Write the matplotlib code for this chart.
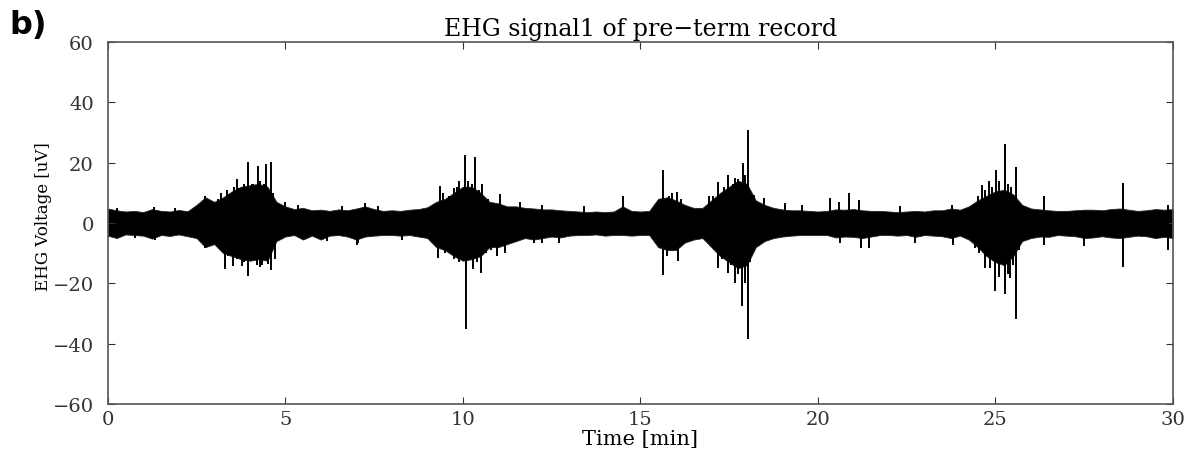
import matplotlib
matplotlib.use("Agg")
import matplotlib.pyplot as plt
import numpy as np

# ===[DATA]=== #
# band of the background noise, sampled every 0.25 min (0 .. 30 min)
env_t = np.arange(0, 30.001, 0.25)
env_hi = [4.8, 4.2, 3.8, 4.0,   3.6, 4.6, 4.0, 3.8,   4.3, 3.9, 6.0, 8.5,   # 0-2.75
          7.0, 8.5, 10.5, 12.0, 12.5, 13.0, 12.0, 7.0,  5.5, 4.6, 5.0, 4.2,  # 3-5.75
          4.4, 4.0, 4.5, 4.2,   4.8, 5.5, 4.6, 4.0,   4.2, 4.0, 4.4, 4.6,    # 6-8.75
          5.2, 7.0, 8.0, 10.0,  12.0, 12.0, 10.0, 7.0, 6.5, 5.5, 5.5, 5.0,   # 9-11.75
          4.8, 4.5, 4.5, 4.2,   4.0, 3.8, 3.6, 3.8,   3.6, 3.8, 5.5, 4.0,    # 12-14.75
          3.8, 4.0, 8.0, 8.5,   7.5, 6.0, 5.0, 5.0,   7.5, 10.0, 12.0, 14.0, # 15-17.75
          13.0, 7.5, 6.0, 5.0,  4.5, 4.2, 4.2, 4.0,   3.8, 4.0, 4.5, 4.4,    # 18-20.75
          4.6, 4.2, 4.0, 4.0,   3.8, 3.6, 3.8, 4.0,   3.8, 4.2, 4.2, 4.8,    # 21-23.75
          4.4, 5.5, 7.5, 9.0,   10.5, 11.0, 9.5, 6.0, 4.8, 4.5, 4.2, 4.0,    # 24-26.75
          4.0, 4.2, 4.4, 4.4,   4.2, 4.6, 4.8, 4.4,   4.0, 4.2, 4.6, 4.4,    # 27-29.75
          4.6]
env_lo = [-4.2, -5.0, -3.8, -4.0,  -4.2, -5.2, -4.0, -4.3,  -3.8, -4.4, -5.0, -8.0,
          -7.0, -10.0, -11.0, -12.0, -12.5, -12.0, -12.5, -6.0, -4.5, -4.0, -5.5, -4.2,
          -5.5, -4.2, -4.0, -4.5,  -5.5, -4.5, -4.2, -4.0,  -4.0, -4.2, -4.0, -4.5,
          -5.0, -8.0, -9.0, -11.0, -12.5, -12.0, -11.0, -8.0, -8.0, -7.0, -6.0, -5.0,
          -5.5, -5.0, -4.5, -4.8,  -4.2, -4.0, -4.0, -3.8,  -4.2, -4.0, -4.0, -4.2,
          -4.0, -4.0, -8.0, -9.0,  -9.0, -6.5, -5.5, -5.0,  -8.0, -11.0, -13.0, -15.0,
          -14.0, -8.0, -6.0, -5.0, -4.5, -4.2, -4.0, -4.0,  -4.0, -4.0, -4.8, -4.5,
          -4.6, -5.0, -4.5, -4.0,  -4.0, -4.2, -4.0, -4.6,  -4.0, -4.2, -4.4, -5.0,
          -4.2, -5.5, -8.0, -11.0, -13.0, -14.0, -11.0, -6.0, -5.0, -4.5, -4.6, -4.0,
          -4.2, -4.4, -5.0, -4.8,  -4.4, -4.8, -5.0, -4.6,  -4.2, -4.4, -5.0, -4.6,
          -5.0]

# single spikes sticking out of the band: time [min], peak [uV]
spike_t = [0.25, 0.77, 1.29, 1.33, 1.9, 2.74, 2.74, 3.10, 3.20, 3.30, 3.35, 3.40,
           3.45, 3.54, 3.55, 3.63, 3.65, 3.70, 3.77, 3.85, 3.85, 3.96, 3.96,
           4.05, 4.08, 4.10, 4.20, 4.22, 4.28, 4.30, 4.34, 4.40, 4.45, 4.50,
           4.59, 4.59, 4.65, 4.70, 4.99, 5.37,
           6.17, 6.6, 7.01, 7.06, 7.25, 7.60, 8.3,
           9.31, 9.36, 9.45, 9.50, 9.60, 9.74, 9.74, 9.85, 9.90, 9.90, 10.06, 10.09,
           10.15, 10.20, 10.25, 10.30, 10.35, 10.40, 10.45, 10.52, 10.53, 10.65, 10.70,
           10.80, 10.96, 11.05, 11.19, 11.60, 12.00,
           12.22, 12.22, 12.70, 13.4, 14.52, 15.65, 15.65, 15.75, 15.80, 15.90, 15.90,
           16.03, 16.07, 16.15, 16.92, 17.05, 17.10, 17.20, 17.20, 17.30, 17.35,
           17.48, 17.48, 17.55, 17.60, 17.67, 17.67, 17.75, 17.75, 17.86, 17.90,
           17.95, 17.95, 18.02, 18.04, 18.10, 18.14, 18.20, 18.47,
           19.08, 19.55, 20.35, 20.58, 20.63, 20.88, 21.15, 21.20, 21.43, 22.3,
           22.74, 23.78, 23.80,
           24.43, 24.50, 24.55, 24.62, 24.70, 24.71, 24.81, 24.85, 24.90, 24.99, 25.01,
           25.10, 25.10, 25.26, 25.26, 25.35, 25.35, 25.40, 25.45, 25.50, 25.59, 25.59,
           25.65, 26.36, 26.36, 27.48, 28.58, 28.58, 29.86, 29.87]
spike_v = [4.9, -5.0, 5.2, -5.5, 5.0, 9.0, -8.3, 8.0, 10.0, -15.4, 11.0, -11.0,
           9.5, -14.3, 12.0, 14.5, -12.0, 11.5, -14.3, 13.0, -13.0, 20.3, -17.6,
           13.0, 13.0, -12.0, -13.9, 19.0, -14.5, 14.0, -13.9, 13.0, 19.7, -13.5,
           20.3, -15.6, 10.0, -12.0, 7.1, 6.0,
           -6.1, 5.5, -7.2, -6.6, 6.6, 5.5, -5.5,
           -11.6, 12.1, 10.0, -10.0, 9.0, 11.5, -12.1, 12.0, 14.0, -13.0, 22.5, -35.0,
           14.0, -12.0, 13.0, -15.4, 21.8, -13.0, 11.0, -16.5, 12.9, -10.0, 8.0,
           -9.0, -11.0, 9.6, -9.9, 6.9, -6.6,
           6.0, -6.6, -6.6, 5.5, 8.8, 17.6, -17.1, -11.0, 9.0, 10.0, -9.0,
           10.4, -12.6, 8.0, 8.8, 9.0, -9.0, 13.7, -14.8, -12.0, 12.0,
           15.9, -16.5, -14.0, 13.0, 14.8, -19.8, 14.5, -17.0, -27.5, 19.8,
           16.0, -20.0, 30.8, -38.5, -13.0, -9.4, 9.3, 8.2,
           6.6, 6.1, 8.2, 7.1, -6.6, 9.9, 7.7, -8.2, -8.2, 5.5,
           -6.6, 6.1, -7.2,
           -8.2, 9.0, -10.0, 12.6, 11.0, -14.9, 13.8, -15.0, 12.0, -22.6, 17.6,
           14.0, -18.0, 26.1, -23.7, 13.0, -17.0, -18.2, 12.0, -14.0, 18.7, -31.9,
           -9.0, 9.0, -7.2, -7.7, 13.2, -14.6, -8.8, 6.1]

x_ticks = [0, 5, 10, 15, 20, 25, 30]
y_ticks = [-60, -40, -20, 0, 20, 40, 60]

# ===[PLOT]=== #
serif = ["DejaVu Serif"]
fig = plt.figure(figsize=(11.84, 4.52), dpi=100)
ax = fig.add_axes([0.091, 0.104, 0.8997, 0.801])

ax.fill_between(env_t, env_lo, env_hi, color="black", lw=0.6, edgecolor="#222222")
ax.vlines(spike_t, 0, spike_v, color="black", lw=1.4)

ax.set_xlim(0, 30)
ax.set_ylim(-60, 60)
ax.set_xticks(x_ticks)
ax.set_yticks(y_ticks)
ax.tick_params(direction="in", top=True, right=True, length=5, width=0.8,
               labelsize=14, colors="#333333", pad=4)
ax.tick_params(axis="y", pad=10)
for lab in ax.get_xticklabels() + ax.get_yticklabels():
    lab.set_family(serif)
for sp in ax.spines.values():
    sp.set_color("#555555")
    sp.set_linewidth(1.2)

ax.set_title("EHG signal1 of pre\u2212term record", family=serif, fontsize=17, pad=5)
ax.set_xlabel("Time [min]", family=serif, fontsize=15, labelpad=1)
ax.set_ylabel("EHG Voltage [uV]", family=serif, fontsize=12)
ax.yaxis.set_label_coords(-0.052, 0.52)  # just left of the tick numbers
fig.text(0.008, 0.925, "b)", fontsize=23, fontweight="bold", family="DejaVu Sans")

fig.savefig("out.png", dpi=100)
